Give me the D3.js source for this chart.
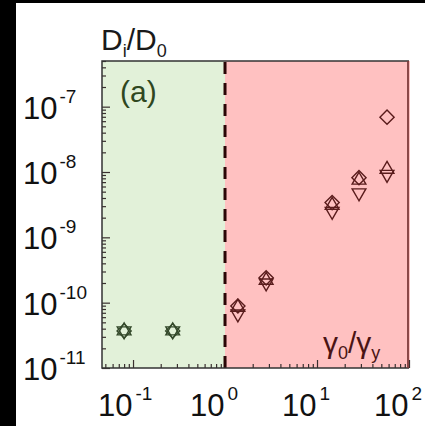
<!DOCTYPE html>
<html>
<head>
<meta charset="utf-8">
<script src="https://cdn.jsdelivr.net/npm/d3@7"></script>
<style>
  html, body { margin: 0; padding: 0; background: #000; }
  svg { display: block; }
</style>
</head>
<body>
<svg id="chart" width="425" height="426"></svg>
<script>
// Strain amplitude ratio gamma0 / gamma_y for each run
const strainRatio = [0.08, 0.27, 1.38, 2.8, 14.6, 28.6, 57.7];
// Normalised diffusivity D_i / D_0 for the three particle families
const diamondSeries = [3.7e-11, 3.7e-11, 8.9e-11, 2.4e-10, 3.4e-9, 8.2e-9, 6.9e-8];
const upTriangleSeries = [3.7e-11, 3.7e-11, 8.5e-11, 2.2e-10, 3.1e-9, 7.5e-9, 1.1e-8];
const downTriangleSeries = [3.7e-11, 3.7e-11, 6.7e-11, 2.0e-10, 2.5e-9, 4.8e-9, 9.2e-9];
// Yield point: below it the sample is solid-like, above it fluidised
const yieldRatio = 1;
// Axis ticks
const xMajorTicks = [0.1, 1, 10, 100];
const xTickExponents = ["-1", "0", "1", "2"];
const yMajorTicks = [1e-7, 1e-8, 1e-9, 1e-10, 1e-11];
const yTickExponents = ["-7", "-8", "-9", "-10", "-11"];

const svg = d3.select("#chart");
const W = 425, H = 426;
const plot = { left: 102, right: 409, top: 61, bottom: 368 };

const x = d3.scaleLog().domain([0.046, 100]).range([plot.left, plot.right]);
const y = d3.scaleLog().domain([1e-11, 5e-7]).range([plot.bottom, plot.top]);

// page background
svg.append("rect").attr("width", W).attr("height", H).attr("fill", "#000");
svg.append("rect").attr("x", 16).attr("y", 3).attr("width", W - 16).attr("height", H - 3).attr("fill", "#fff");

// regime shading
svg.append("rect")
  .attr("x", plot.left).attr("y", plot.top)
  .attr("width", x(yieldRatio) - plot.left).attr("height", plot.bottom - plot.top)
  .attr("fill", "#e2f1d9");
svg.append("rect")
  .attr("x", x(yieldRatio)).attr("y", plot.top)
  .attr("width", plot.right + 1 - x(yieldRatio)).attr("height", plot.bottom - plot.top)
  .attr("fill", "#ffc1c1");

// minor tick lists for log axes
function minorTicks(domain) {
  const out = [];
  const lo = Math.floor(Math.log10(domain[0])), hi = Math.ceil(Math.log10(domain[1]));
  for (let e = lo; e < hi; e++) {
    for (let m = 2; m <= 9; m++) {
      const v = m * Math.pow(10, e);
      if (v >= domain[0] * 0.999 && v <= domain[1] * 1.001) out.push(v);
    }
  }
  return out;
}

const tickColor = "#3a3030";

// bottom axis: inward ticks
const xAxisG = svg.append("g").attr("transform", `translate(0,${plot.bottom})`);
xAxisG.append("g").call(d3.axisBottom(x).tickValues(minorTicks(x.domain())).tickSize(-4).tickFormat(""));
xAxisG.append("g").call(d3.axisBottom(x).tickValues(xMajorTicks).tickSize(-8).tickFormat(""));
xAxisG.selectAll(".domain").remove();
xAxisG.selectAll("line").attr("stroke", tickColor).attr("stroke-width", 1.2);

// left axis: inward ticks
const yAxisG = svg.append("g").attr("transform", `translate(${plot.left},0)`);
yAxisG.append("g").call(d3.axisLeft(y).tickValues(minorTicks(y.domain())).tickSize(-4).tickFormat(""));
yAxisG.append("g").call(d3.axisLeft(y).tickValues(yMajorTicks).tickSize(-8).tickFormat(""));
yAxisG.selectAll(".domain").remove();
yAxisG.selectAll("line").attr("stroke", tickColor).attr("stroke-width", 1.2);

// yield boundary
svg.append("line")
  .attr("x1", x(yieldRatio)).attr("x2", x(yieldRatio))
  .attr("y1", plot.top + 1).attr("y2", plot.bottom)
  .attr("stroke", "#2a0606").attr("stroke-width", 3)
  .attr("stroke-dasharray", "12,9");

// frame
svg.append("path")
  .attr("d", `M${plot.right},${plot.top}H${plot.left}V${plot.bottom}H${plot.right}`)
  .attr("fill", "none").attr("stroke", "#333").attr("stroke-width", 1.5);
svg.append("line")
  .attr("x1", plot.right - 1).attr("x2", plot.right - 1)
  .attr("y1", plot.top).attr("y2", plot.bottom)
  .attr("stroke", "#7e3b3b").attr("stroke-width", 1.8);

// tick labels
const font = "'Liberation Sans', Arial, sans-serif";
xMajorTicks.forEach((v, i) => {
  const t = svg.append("text")
    .attr("x", x(v) - 35).attr("y", 416)
    .attr("font-family", font).attr("font-size", 31).attr("fill", "#111");
  t.append("tspan").text("10");
  t.append("tspan").attr("font-size", 19).attr("dx", 3).attr("dy", -16).text(xTickExponents[i]);
});
yMajorTicks.forEach((v, i) => {
  const t = svg.append("text")
    .attr("x", 23).attr("y", y(v) + 12)
    .attr("font-family", font).attr("font-size", 31).attr("fill", "#111");
  t.append("tspan").text("10");
  t.append("tspan").attr("font-size", 19).attr("dx", 2).attr("dy", -16).text(yTickExponents[i]);
});

// axis titles
const yTitle = svg.append("text").attr("x", 101).attr("y", 50)
  .attr("font-family", font).attr("font-size", 30).attr("fill", "#1a1a1a");
yTitle.append("tspan").text("D");
yTitle.append("tspan").attr("font-size", 18).attr("dy", 7).text("i");
yTitle.append("tspan").attr("dy", -7).text("/D");
yTitle.append("tspan").attr("font-size", 18).attr("dy", 7).text("0");

const xTitle = svg.append("text").attr("x", 323).attr("y", 353)
  .attr("font-family", font).attr("font-size", 30).attr("fill", "#4a1414");
xTitle.append("tspan").text("γ");
xTitle.append("tspan").attr("font-size", 18).attr("dy", 6).text("0");
xTitle.append("tspan").attr("dy", -6).text("/γ");
xTitle.append("tspan").attr("font-size", 18).attr("dy", 6).text("y");

svg.append("text").attr("x", 120).attr("y", 102)
  .attr("font-family", font).attr("font-size", 30).attr("fill", "#2f4720")
  .text("(a)");

// markers
const markerColor = v => v < yieldRatio ? "#33482a" : "#5a1c1c";
const series = [
  { values: diamondSeries, symbol: d3.symbolDiamond2, size: 128, rotate: 0 },
  { values: upTriangleSeries, symbol: d3.symbolTriangle2, size: 135, rotate: 0 },
  { values: downTriangleSeries, symbol: d3.symbolTriangle2, size: 135, rotate: 180 }
];
series.forEach(s => {
  svg.append("g").selectAll("path")
    .data(strainRatio.map((r, i) => ({ r, v: s.values[i] })))
    .join("path")
    .attr("d", d3.symbol(s.symbol, s.size))
    .attr("transform", d => `translate(${x(d.r)},${y(d.v)}) rotate(${s.rotate})`)
    .attr("fill", "none")
    .attr("stroke", d => markerColor(d.r))
    .attr("stroke-width", 1.4);
});
</script>
</body>
</html>
